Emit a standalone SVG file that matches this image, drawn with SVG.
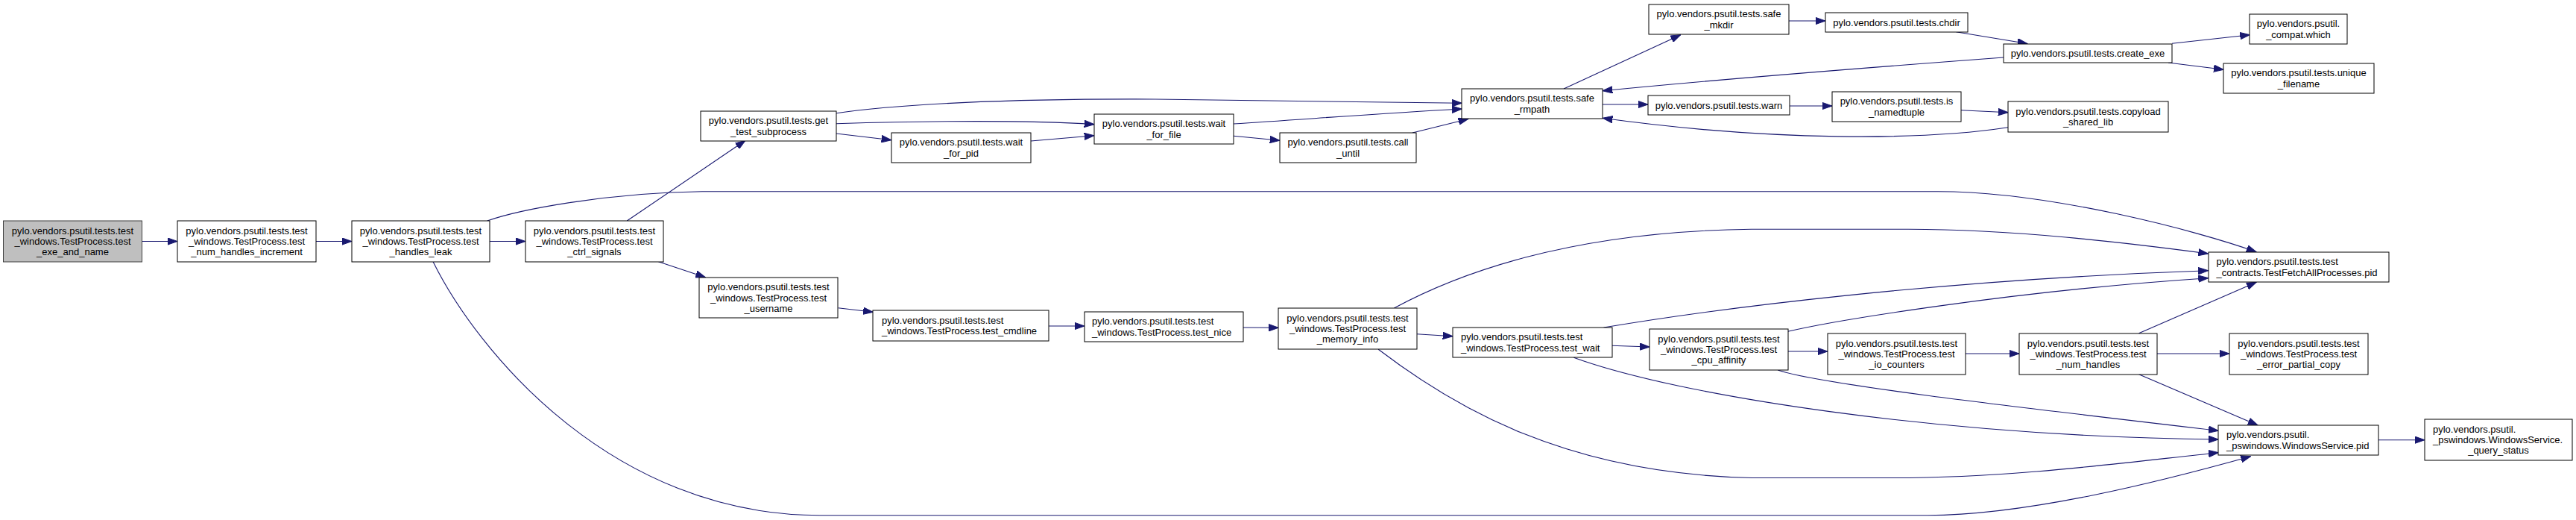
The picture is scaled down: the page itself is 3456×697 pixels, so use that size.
<svg xmlns="http://www.w3.org/2000/svg" width="3456" height="697" viewBox="0 0 3456 697">
<style>
.n rect{fill:#ffffff;stroke:#000000;stroke-width:1}
.root rect{fill:#bfbfbf;stroke:#404040;stroke-width:1}
text{font-family:"Liberation Sans",Arial,Helvetica,sans-serif;font-size:13px;fill:#000000}
.c{text-anchor:middle}
.l{text-anchor:start}
#edges path{fill:none;stroke:#191970;stroke-width:1.1;marker-end:url(#ah)}
</style>
<defs>
<marker id="ah" markerUnits="userSpaceOnUse" viewBox="0 -5 14 10" refX="13.3" refY="0" markerWidth="14" markerHeight="10" orient="auto">
<path d="M0,-4.7 L13.3,0 L0,4.7 z" fill="#191970" stroke="#191970" stroke-width="1"/>
</marker>
</defs>
<rect x="0" y="0" width="3456" height="697" fill="#ffffff"/>
<g id="edges">
<path d="M190.5,323.5 L238,323.5"/>
<path d="M424,323.5 L472,323.5"/>
<path d="M657,323.5 L705,323.5"/>
<path d="M653.7,296 C700,280 820,258 942,256.7 L2600,256.7 C2750,256.7 2950,310 3027.2,337.7"/>
<path d="M581,350.7 C640,470 820,690.7 1100,690.7 L2586,690.7 C2720,690.7 2900,645 3019.6,611.7"/>
<path d="M841.2,296 L1000,188.3"/>
<path d="M883.3,350.7 L946.5,371.7"/>
<path d="M1122,151.7 C1200,140 1350,132 1550,133 L1961.4,138.3"/>
<path d="M1122,165.7 C1250,162 1380,161 1468,166.7"/>
<path d="M1122,179 L1196,187.7"/>
<path d="M1383,189 L1468,181.7"/>
<path d="M1655,166 C1750,160 1850,152 1961.4,146"/>
<path d="M1655,182.3 L1717,188.3"/>
<path d="M1895,178 L1969.8,159.5"/>
<path d="M2098,119 L2254.8,46.7"/>
<path d="M2150,140 L2211,140"/>
<path d="M2400,28 L2449,28"/>
<path d="M2624.4,42.7 L2720,58.5"/>
<path d="M2688,77 C2500,91 2300,107 2150,121.7"/>
<path d="M2401,142 L2458,142"/>
<path d="M2631,147.7 L2694,150.7"/>
<path d="M2694,170.7 C2580,188 2380,190 2150,158.3"/>
<path d="M2914,58.3 L3018.5,46.7"/>
<path d="M2909,84 L2983.2,93.3"/>
<path d="M1124.5,412.7 L1171.4,418.3"/>
<path d="M1407,437 L1455,437"/>
<path d="M1668,439 L1715.3,439.3"/>
<path d="M1870.3,413 C1950,370 2100,310 2350,307.3 L2560,307.3 C2700,307.3 2850,325 2962.6,340"/>
<path d="M1901,447.7 L1949,450.7"/>
<path d="M1849.2,468.3 C1950,545 2100,635 2350,640.5 L2540,640.5 C2700,640.5 2850,620 2976.3,606.7"/>
<path d="M2151.5,439 C2300,414 2600,375 2962.6,362.7"/>
<path d="M2162.6,463.3 L2213,465"/>
<path d="M2111.4,479.3 C2250,530 2600,585 2976.3,589"/>
<path d="M2398.6,444.3 C2460,430 2700,390 2962.6,372.7"/>
<path d="M2399,471 L2452,471"/>
<path d="M2637,474 L2709,474"/>
<path d="M2385.2,496 C2440,515 2700,545 2976.3,577.3"/>
<path d="M2869.5,446.7 L3027.2,378.3"/>
<path d="M2894,474 L2991,474"/>
<path d="M2869.5,501.7 L3029.1,570"/>
<path d="M3191,589.7 L3253,589.7"/>
</g>
<g id="node1" class="root"><rect x="4.5" y="296" width="186" height="55"/>
<text class="c" x="97.5" y="313.7">pylo.vendors.psutil.tests.test</text><text class="c" x="97.5" y="328">_windows.TestProcess.test</text><text class="c" x="97.5" y="342.3">_exe_and_name</text></g>
<g id="node2" class="n"><rect x="238" y="296" width="186" height="55"/>
<text class="c" x="331" y="313.7">pylo.vendors.psutil.tests.test</text><text class="c" x="331" y="328">_windows.TestProcess.test</text><text class="c" x="331" y="342.3">_num_handles_increment</text></g>
<g id="node3" class="n"><rect x="472" y="296" width="185" height="55"/>
<text class="c" x="564.5" y="313.7">pylo.vendors.psutil.tests.test</text><text class="c" x="564.5" y="328">_windows.TestProcess.test</text><text class="c" x="564.5" y="342.3">_handles_leak</text></g>
<g id="node4" class="n"><rect x="705" y="296" width="185" height="55"/>
<text class="c" x="797.5" y="313.7">pylo.vendors.psutil.tests.test</text><text class="c" x="797.5" y="328">_windows.TestProcess.test</text><text class="c" x="797.5" y="342.3">_ctrl_signals</text></g>
<g id="node5" class="n"><rect x="940" y="149" width="182" height="40"/>
<text class="c" x="1031" y="166.3">pylo.vendors.psutil.tests.get</text><text class="c" x="1031" y="180.6">_test_subprocess</text></g>
<g id="node6" class="n"><rect x="938" y="372" width="186" height="54"/>
<text class="c" x="1031" y="389.2">pylo.vendors.psutil.tests.test</text><text class="c" x="1031" y="403.5">_windows.TestProcess.test</text><text class="c" x="1031" y="417.8">_username</text></g>
<g id="node7" class="n"><rect x="1196" y="178" width="187" height="40"/>
<text class="c" x="1289.5" y="195.3">pylo.vendors.psutil.tests.wait</text><text class="c" x="1289.5" y="209.6">_for_pid</text></g>
<g id="node8" class="n"><rect x="1468" y="153" width="187" height="40"/>
<text class="c" x="1561.5" y="170.3">pylo.vendors.psutil.tests.wait</text><text class="c" x="1561.5" y="184.6">_for_file</text></g>
<g id="node9" class="n"><rect x="1171" y="416" width="236" height="41"/>
<text class="l" x="1183" y="433.8">pylo.vendors.psutil.tests.test</text><text class="l" x="1183" y="448.1">_windows.TestProcess.test_cmdline</text></g>
<g id="node10" class="n"><rect x="1455" y="418" width="213" height="40"/>
<text class="l" x="1465" y="435.3">pylo.vendors.psutil.tests.test</text><text class="l" x="1465" y="449.6">_windows.TestProcess.test_nice</text></g>
<g id="node11" class="n"><rect x="1715" y="413" width="186" height="55"/>
<text class="c" x="1808" y="430.7">pylo.vendors.psutil.tests.test</text><text class="c" x="1808" y="445">_windows.TestProcess.test</text><text class="c" x="1808" y="459.3">_memory_info</text></g>
<g id="node12" class="n"><rect x="1717" y="178" width="183" height="40"/>
<text class="c" x="1808.5" y="195.3">pylo.vendors.psutil.tests.call</text><text class="c" x="1808.5" y="209.6">_until</text></g>
<g id="node13" class="n"><rect x="1961" y="119" width="189" height="40"/>
<text class="c" x="2055.5" y="136.3">pylo.vendors.psutil.tests.safe</text><text class="c" x="2055.5" y="150.6">_rmpath</text></g>
<g id="node14" class="n"><rect x="2212" y="6" width="188" height="40"/>
<text class="c" x="2306" y="23.3">pylo.vendors.psutil.tests.safe</text><text class="c" x="2306" y="37.6">_mkdir</text></g>
<g id="node15" class="n"><rect x="2449" y="17" width="191" height="26"/>
<text class="c" x="2544.5" y="34.5">pylo.vendors.psutil.tests.chdir</text></g>
<g id="node16" class="n"><rect x="2688" y="59" width="226" height="25"/>
<text class="c" x="2801" y="76">pylo.vendors.psutil.tests.create_exe</text></g>
<g id="node17" class="n"><rect x="3018" y="19" width="131" height="40"/>
<text class="c" x="3083.5" y="36.3">pylo.vendors.psutil.</text><text class="c" x="3083.5" y="50.6">_compat.which</text></g>
<g id="node18" class="n"><rect x="2983" y="85" width="202" height="40"/>
<text class="c" x="3084" y="102.3">pylo.vendors.psutil.tests.unique</text><text class="c" x="3084" y="116.6">_filename</text></g>
<g id="node19" class="n"><rect x="2211" y="128" width="190" height="26"/>
<text class="c" x="2306" y="145.5">pylo.vendors.psutil.tests.warn</text></g>
<g id="node20" class="n"><rect x="2458" y="123" width="173" height="40"/>
<text class="c" x="2544.5" y="140.3">pylo.vendors.psutil.tests.is</text><text class="c" x="2544.5" y="154.6">_namedtuple</text></g>
<g id="node21" class="n"><rect x="2694" y="136" width="215" height="41"/>
<text class="c" x="2801.5" y="153.8">pylo.vendors.psutil.tests.copyload</text><text class="c" x="2801.5" y="168.1">_shared_lib</text></g>
<g id="node22" class="n"><rect x="1949" y="439" width="214" height="40"/>
<text class="l" x="1960" y="456.3">pylo.vendors.psutil.tests.test</text><text class="l" x="1960" y="470.6">_windows.TestProcess.test_wait</text></g>
<g id="node23" class="n"><rect x="2213" y="441" width="186" height="55"/>
<text class="c" x="2306" y="458.7">pylo.vendors.psutil.tests.test</text><text class="c" x="2306" y="473">_windows.TestProcess.test</text><text class="c" x="2306" y="487.3">_cpu_affinity</text></g>
<g id="node24" class="n"><rect x="2452" y="447" width="185" height="55"/>
<text class="c" x="2544.5" y="464.7">pylo.vendors.psutil.tests.test</text><text class="c" x="2544.5" y="479">_windows.TestProcess.test</text><text class="c" x="2544.5" y="493.3">_io_counters</text></g>
<g id="node25" class="n"><rect x="2709" y="447" width="185" height="55"/>
<text class="c" x="2801.5" y="464.7">pylo.vendors.psutil.tests.test</text><text class="c" x="2801.5" y="479">_windows.TestProcess.test</text><text class="c" x="2801.5" y="493.3">_num_handles</text></g>
<g id="node26" class="n"><rect x="2963" y="338" width="242" height="40"/>
<text class="l" x="2973.5" y="355.3">pylo.vendors.psutil.tests.test</text><text class="l" x="2973.5" y="369.6">_contracts.TestFetchAllProcesses.pid</text></g>
<g id="node27" class="n"><rect x="2991" y="447" width="186" height="55"/>
<text class="c" x="3084" y="464.7">pylo.vendors.psutil.tests.test</text><text class="c" x="3084" y="479">_windows.TestProcess.test</text><text class="c" x="3084" y="493.3">_error_partial_copy</text></g>
<g id="node28" class="n"><rect x="2976" y="570" width="215" height="40"/>
<text class="l" x="2987" y="587.3">pylo.vendors.psutil.</text><text class="l" x="2987" y="601.6">_pswindows.WindowsService.pid</text></g>
<g id="node29" class="n"><rect x="3253" y="562" width="198" height="55"/>
<text class="l" x="3264" y="579.7">pylo.vendors.psutil.</text><text class="l" x="3264" y="594">_pswindows.WindowsService.</text><text class="c" x="3352" y="608.3">_query_status</text></g>
</svg>
